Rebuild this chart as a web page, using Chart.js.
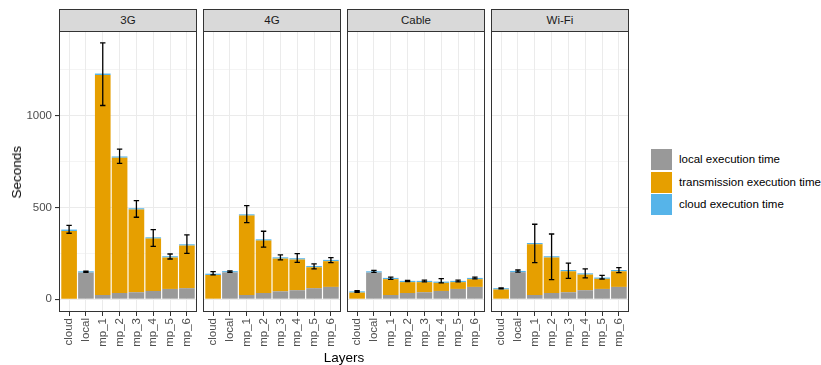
<!DOCTYPE html>
<html>
<head>
<meta charset="utf-8">
<script src="https://cdn.jsdelivr.net/npm/chart.js@4.4.1/dist/chart.umd.min.js"></script>
<style>
  body { margin: 0; background: #fff; font-family: "Liberation Sans", Arial, sans-serif; }
  #wrap { position: relative; width: 821px; height: 365px; overflow: hidden; }
  #wrap canvas { position: absolute; top: 0; }
  .strip { position: absolute; top: 9px; height: 23px; box-sizing: border-box; background: #D9D9D9;
           border: 1px solid #333333; color: #1A1A1A; font-size: 11.5px; text-align: center; line-height: 21px; }
  .key { position: absolute; left: 651px; width: 21px; height: 21px; }
  .keytext { position: absolute; left: 679px; font-size: 11.5px; color: #000; line-height: 21px; white-space: nowrap; }
  .title { position: absolute; font-size: 13.5px; font-weight: normal; color: #000; white-space: nowrap; }
</style>
</head>
<body>
<div id="wrap"></div>
<script>
// facets and x categories
const networks = ["3G", "4G", "Cable", "Wi-Fi"];
const layers = ["cloud", "local", "mp_1", "mp_2", "mp_3", "mp_4", "mp_5", "mp_6"];

// seconds, one row per network (3G, 4G, Cable, Wi-Fi)
const localTime = [
  [0, 145, 23, 34, 38, 45, 56, 60],
  [0, 146, 23, 34, 43, 49, 60, 67],
  [0, 145, 23, 34, 38, 45, 56, 67],
  [0, 147, 23, 34, 38, 49, 56, 67],
];
const transTime = [
  [371, 0, 1197, 736, 450, 285, 171, 232],
  [132, 0, 432, 285, 178, 167, 114, 140],
  [36, 0, 86, 59, 55, 44, 37, 42],
  [53, 0, 276, 193, 114, 85, 55, 85],
];
const cloudTime = [
  [8, 7, 8, 7, 7, 7, 7, 7],
  [7, 7, 7, 7, 7, 7, 7, 7],
  [7, 7, 7, 7, 7, 7, 7, 7],
  [7, 7, 7, 7, 7, 7, 7, 7],
];
// error bar limits around the total
const errLow = [
  [359, 146, 1054, 739, 446, 288, 219, 250],
  [132, 146, 417, 284, 214, 201, 165, 199],
  [38, 146, 108, 96, 94, 89, 94, 111],
  [57, 147, 199, 107, 114, 116, 110, 145],
];
const errHigh = [
  [402, 153, 1395, 817, 536, 379, 246, 350],
  [150, 154, 509, 370, 241, 248, 192, 226],
  [46, 157, 120, 103, 104, 112, 104, 120],
  [62, 159, 408, 355, 196, 165, 130, 172],
];
const yBreaks = [0, 250, 500, 750, 1000, 1250];

const seriesNames = ["local execution time", "transmission execution time", "cloud execution time"];
const seriesColours = ["#999999", "#E69F00", "#56B4E9"];

const FONT = '"Liberation Sans", Arial, sans-serif';
Chart.defaults.font.family = FONT;

const panelLeft = [59, 203, 347, 491];
const panelWidth = 138;
const wrap = document.getElementById("wrap");

const panelBorder = {
  id: "panelBorder",
  afterDraw(chart) {
    const a = chart.chartArea, ctx = chart.ctx;
    ctx.save();
    ctx.strokeStyle = "#333333";
    ctx.lineWidth = 1;
    ctx.strokeRect(a.left + 0.5, a.top + 0.5, a.width - 1, a.height - 1);
    ctx.restore();
  },
};

function errorBars(low, high) {
  return {
    id: "errorBars",
    afterDatasetsDraw(chart) {
      const { ctx, scales: { x, y } } = chart;
      const half = x.getPixelForValue(1.16) - x.getPixelForValue(1);
      ctx.save();
      ctx.strokeStyle = "#000";
      ctx.lineWidth = 1.3;
      low.forEach((lo, k) => {
        const px = x.getPixelForValue(k + 1);
        const yl = y.getPixelForValue(lo), yh = y.getPixelForValue(high[k]);
        ctx.beginPath();
        ctx.moveTo(px, yl); ctx.lineTo(px, yh);
        ctx.moveTo(px - half, yl); ctx.lineTo(px + half, yl);
        ctx.moveTo(px - half, yh); ctx.lineTo(px + half, yh);
        ctx.stroke();
      });
      ctx.restore();
    },
  };
}

function makePanel(i) {
  const first = i === 0;
  const padL = first ? 0 : 10, yW = first ? 59 : 0, padR = 8;
  const canvas = document.createElement("canvas");
  canvas.width = padL + yW + panelWidth + padR;
  canvas.height = 365;
  canvas.style.left = panelLeft[i] - padL - yW + "px";
  wrap.appendChild(canvas);

  const strip = document.createElement("div");
  strip.className = "strip";
  strip.style.left = panelLeft[i] + "px";
  strip.style.width = panelWidth + "px";
  strip.textContent = networks[i];
  wrap.appendChild(strip);

  const rows = [localTime[i], transTime[i], cloudTime[i]];
  const tickFont = { family: FONT, size: 11.5 };

  new Chart(canvas, {
    type: "bar",
    data: {
      datasets: rows.map((row, s) => ({
        label: seriesNames[s],
        backgroundColor: seriesColours[s],
        borderWidth: 0,
        barPercentage: 0.93,
        categoryPercentage: 1,
        data: row.map((v, k) => ({ x: k + 1, y: v })),
      })),
    },
    options: {
      responsive: false,
      animation: false,
      layout: { padding: { left: padL, right: padR, top: 31, bottom: 0 } },
      plugins: { legend: { display: false }, tooltip: { enabled: false } },
      scales: {
        x: {
          type: "linear",
          min: 0.4,
          max: 8.6,
          stacked: true,
          offset: false,
          afterBuildTicks: (s) => { s.ticks = layers.map((_, k) => ({ value: k + 1 })); },
          afterFit: (s) => { s.height = 53; },
          border: { display: false },
          grid: { offset: false, color: "#EBEBEB", lineWidth: 1, tickColor: "#333333", tickLength: 4 },
          ticks: {
            autoSkip: false,
            minRotation: 90,
            maxRotation: 90,
            padding: 2,
            color: "#4D4D4D",
            font: tickFont,
            callback: (v) => layers[v - 1],
          },
        },
        y: {
          stacked: true,
          min: -69.5,
          max: 1459.5,
          afterBuildTicks: (s) => { s.ticks = yBreaks.map((v) => ({ value: v })); },
          afterFit: (s) => { s.width = yW; },
          border: { display: false },
          grid: {
            color: "#EBEBEB",
            lineWidth: (c) => (c.tick && c.tick.value % 500 === 0 ? 1.1 : 0.55),
            tickColor: (c) => (c.tick && c.tick.value % 500 === 0 ? "#333333" : "rgba(0,0,0,0)"),
            tickLength: 4,
            drawTicks: first,
          },
          ticks: {
            display: first,
            padding: 3,
            color: "#4D4D4D",
            font: tickFont,
            callback: (v) => (v % 500 === 0 ? v : ""),
          },
        },
      },
    },
    plugins: [errorBars(errLow[i], errHigh[i]), panelBorder],
  });
}

networks.forEach((_, i) => makePanel(i));

// legend
const keyTops = [149, 172, 194];
seriesNames.forEach((name, s) => {
  const key = document.createElement("div");
  key.className = "key";
  key.style.top = keyTops[s] + "px";
  key.style.background = seriesColours[s];
  wrap.appendChild(key);
  const txt = document.createElement("div");
  txt.className = "keytext";
  txt.style.top = keyTops[s] + "px";
  txt.textContent = name;
  wrap.appendChild(txt);
});

// axis titles
const yTitle = document.createElement("div");
yTitle.className = "title";
yTitle.textContent = "Seconds";
yTitle.style.left = "9px";
yTitle.style.top = "146px";
yTitle.style.writingMode = "vertical-rl";
yTitle.style.transform = "rotate(180deg)";
wrap.appendChild(yTitle);

const xTitle = document.createElement("div");
xTitle.className = "title";
xTitle.textContent = "Layers";
xTitle.style.left = "344px";
xTitle.style.top = "357px";
xTitle.style.transform = "translate(-50%, -50%)";
wrap.appendChild(xTitle);
</script>
</body>
</html>
